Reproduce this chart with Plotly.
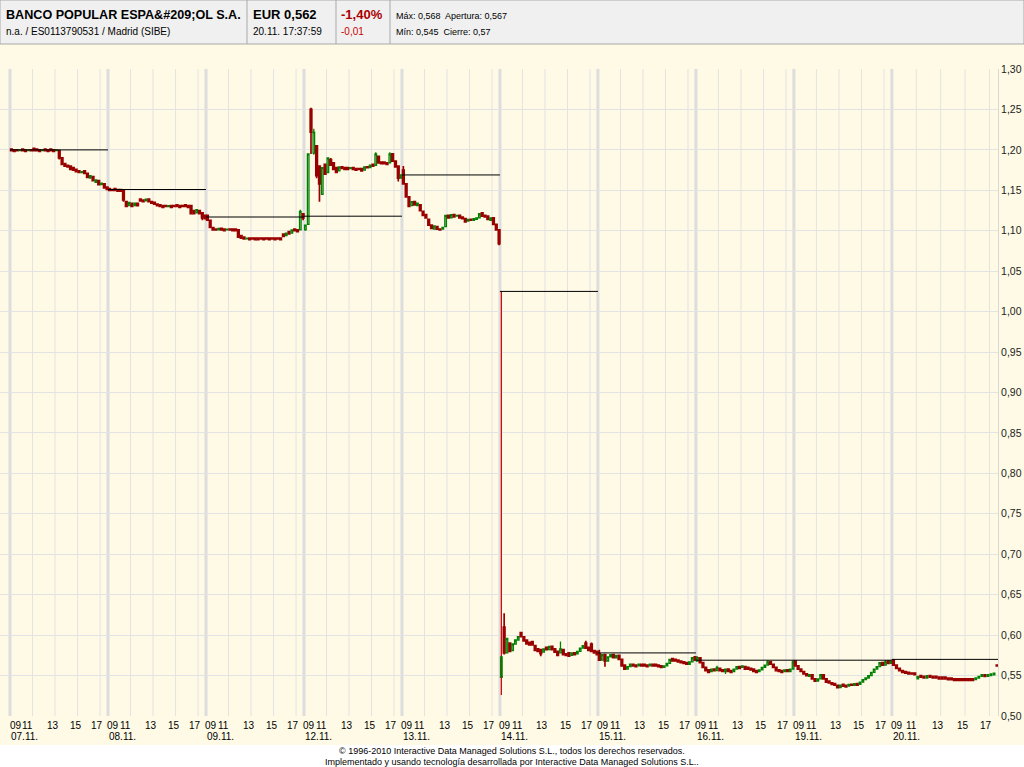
import plotly.graph_objects as go

# ---------------- data ----------------
DAYS = ["07.11.", "08.11.", "09.11.", "12.11.", "13.11.", "14.11.", "15.11.", "16.11.", "19.11.", "20.11."]
HOUR_TICKS = [9, 11, 13, 15, 17]
HOUR_TEXT = ["09", "11", "13", "15", "17"]
PRICE_TICKS = [0.50, 0.55, 0.60, 0.65, 0.70, 0.75, 0.80, 0.85, 0.90, 0.95, 1.00, 1.05, 1.10, 1.15, 1.20, 1.25, 1.30]

# previous-day close reference line for each session
PREV_CLOSE = [1.200, 1.151, 1.117, 1.118, 1.169, 1.025, 0.578, 0.569, 0.569, 0.570]

# 15-minute candles, 35 per session (09:00 ... 17:30)
OPEN = [
    [1.201, 1.200, 1.200, 1.199, 1.201, 1.200, 1.199, 1.200, 1.202, 1.201, 1.200, 1.199, 1.201, 1.200, 1.201, 1.200, 1.199, 1.199, 1.190, 1.183, 1.181, 1.180, 1.178, 1.176, 1.174, 1.172, 1.174, 1.171, 1.165, 1.167, 1.160, 1.162, 1.157, 1.158, 1.154],
    [1.152, 1.151, 1.152, 1.151, 1.151, 1.150, 1.136, 1.131, 1.134, 1.131, 1.134, 1.139, 1.138, 1.137, 1.139, 1.136, 1.135, 1.133, 1.132, 1.131, 1.131, 1.130, 1.131, 1.131, 1.132, 1.131, 1.131, 1.132, 1.131, 1.131, 1.125, 1.122, 1.125, 1.122, 1.119],
    [1.119, 1.113, 1.104, 1.102, 1.101, 1.103, 1.102, 1.101, 1.102, 1.102, 1.102, 1.101, 1.094, 1.092, 1.090, 1.091, 1.091, 1.091, 1.091, 1.091, 1.091, 1.091, 1.091, 1.091, 1.091, 1.091, 1.091, 1.096, 1.094, 1.099, 1.097, 1.102, 1.101, 1.101, 1.121],
    [1.101, 1.108, 1.250, 1.196, 1.205, 1.180, 1.145, 1.182, 1.172, 1.188, 1.184, 1.178, 1.174, 1.179, 1.178, 1.178, 1.177, 1.178, 1.177, 1.177, 1.177, 1.175, 1.179, 1.178, 1.182, 1.181, 1.192, 1.185, 1.185, 1.184, 1.184, 1.195, 1.186, 1.180, 1.165],
    [1.175, 1.158, 1.142, 1.131, 1.136, 1.131, 1.132, 1.124, 1.120, 1.114, 1.107, 1.102, 1.105, 1.102, 1.102, 1.105, 1.119, 1.116, 1.120, 1.118, 1.119, 1.117, 1.115, 1.112, 1.114, 1.113, 1.114, 1.116, 1.122, 1.119, 1.118, 1.113, 1.116, 1.108, 1.101],
    [0.548, 0.610, 0.578, 0.590, 0.581, 0.589, 0.594, 0.603, 0.598, 0.594, 0.591, 0.592, 0.587, 0.583, 0.582, 0.579, 0.585, 0.582, 0.586, 0.583, 0.580, 0.578, 0.582, 0.577, 0.578, 0.575, 0.578, 0.577, 0.580, 0.584, 0.590, 0.585, 0.589, 0.581, 0.580],
    [0.577, 0.569, 0.576, 0.568, 0.573, 0.576, 0.572, 0.575, 0.570, 0.563, 0.558, 0.561, 0.564, 0.563, 0.562, 0.564, 0.564, 0.563, 0.562, 0.564, 0.564, 0.563, 0.562, 0.560, 0.562, 0.565, 0.571, 0.570, 0.569, 0.568, 0.567, 0.566, 0.564, 0.567, 0.573],
    [0.568, 0.572, 0.566, 0.560, 0.557, 0.555, 0.558, 0.556, 0.559, 0.557, 0.555, 0.558, 0.556, 0.555, 0.558, 0.561, 0.560, 0.561, 0.560, 0.559, 0.558, 0.556, 0.555, 0.557, 0.560, 0.563, 0.567, 0.564, 0.560, 0.557, 0.556, 0.555, 0.557, 0.555, 0.558],
    [0.568, 0.562, 0.558, 0.555, 0.552, 0.549, 0.551, 0.546, 0.543, 0.546, 0.551, 0.546, 0.543, 0.541, 0.540, 0.538, 0.535, 0.539, 0.538, 0.537, 0.539, 0.538, 0.540, 0.539, 0.542, 0.545, 0.547, 0.550, 0.554, 0.558, 0.561, 0.566, 0.563, 0.568, 0.565],
    [0.569, 0.563, 0.559, 0.556, 0.555, 0.554, 0.553, 0.553, 0.546, 0.550, 0.549, 0.547, 0.550, 0.549, 0.549, 0.548, 0.548, 0.548, 0.547, 0.547, 0.546, 0.546, 0.546, 0.546, 0.546, 0.546, 0.546, 0.545, 0.547, 0.549, 0.551, 0.549, 0.550, 0.551, 0.563],
]
CLOSE = [
    [1.199, 1.198, 1.199, 1.200, 1.199, 1.198, 1.200, 1.199, 1.199, 1.199, 1.198, 1.200, 1.199, 1.198, 1.199, 1.198, 1.200, 1.190, 1.182, 1.180, 1.179, 1.176, 1.175, 1.173, 1.172, 1.173, 1.171, 1.166, 1.168, 1.162, 1.163, 1.157, 1.159, 1.153, 1.151],
    [1.150, 1.150, 1.150, 1.149, 1.149, 1.138, 1.130, 1.135, 1.130, 1.134, 1.131, 1.137, 1.136, 1.139, 1.136, 1.134, 1.133, 1.131, 1.130, 1.129, 1.130, 1.131, 1.129, 1.130, 1.130, 1.129, 1.130, 1.130, 1.129, 1.121, 1.121, 1.126, 1.121, 1.116, 1.115],
    [1.113, 1.104, 1.101, 1.101, 1.103, 1.101, 1.100, 1.102, 1.101, 1.100, 1.100, 1.092, 1.091, 1.090, 1.091, 1.089, 1.090, 1.089, 1.089, 1.090, 1.089, 1.090, 1.089, 1.090, 1.089, 1.090, 1.089, 1.093, 1.097, 1.096, 1.101, 1.100, 1.099, 1.124, 1.116],
    [1.107, 1.195, 1.222, 1.222, 1.168, 1.158, 1.178, 1.170, 1.190, 1.181, 1.176, 1.172, 1.179, 1.177, 1.176, 1.176, 1.178, 1.176, 1.175, 1.176, 1.174, 1.179, 1.178, 1.181, 1.180, 1.195, 1.184, 1.183, 1.183, 1.182, 1.195, 1.186, 1.179, 1.165, 1.169],
    [1.158, 1.142, 1.130, 1.136, 1.132, 1.134, 1.125, 1.119, 1.116, 1.107, 1.103, 1.106, 1.102, 1.101, 1.104, 1.119, 1.116, 1.120, 1.117, 1.119, 1.116, 1.115, 1.111, 1.114, 1.113, 1.115, 1.116, 1.121, 1.118, 1.117, 1.114, 1.116, 1.108, 1.101, 1.084],
    [0.573, 0.578, 0.596, 0.580, 0.589, 0.594, 0.598, 0.598, 0.593, 0.589, 0.588, 0.588, 0.581, 0.580, 0.577, 0.583, 0.582, 0.586, 0.582, 0.579, 0.575, 0.583, 0.576, 0.575, 0.574, 0.578, 0.576, 0.580, 0.584, 0.587, 0.584, 0.581, 0.580, 0.578, 0.576],
    [0.569, 0.576, 0.568, 0.573, 0.576, 0.572, 0.575, 0.570, 0.562, 0.558, 0.561, 0.564, 0.562, 0.561, 0.564, 0.562, 0.562, 0.561, 0.564, 0.562, 0.562, 0.561, 0.560, 0.562, 0.565, 0.570, 0.568, 0.568, 0.567, 0.566, 0.565, 0.564, 0.567, 0.572, 0.569],
    [0.572, 0.566, 0.560, 0.556, 0.554, 0.558, 0.556, 0.560, 0.556, 0.555, 0.558, 0.555, 0.554, 0.558, 0.561, 0.559, 0.562, 0.558, 0.558, 0.557, 0.555, 0.554, 0.557, 0.560, 0.563, 0.567, 0.564, 0.560, 0.556, 0.555, 0.554, 0.557, 0.555, 0.558, 0.567],
    [0.562, 0.558, 0.555, 0.552, 0.550, 0.551, 0.546, 0.543, 0.546, 0.551, 0.546, 0.542, 0.541, 0.539, 0.538, 0.535, 0.538, 0.537, 0.536, 0.539, 0.538, 0.540, 0.538, 0.542, 0.545, 0.547, 0.550, 0.554, 0.558, 0.561, 0.566, 0.563, 0.567, 0.565, 0.568],
    [0.563, 0.559, 0.556, 0.554, 0.553, 0.552, 0.552, 0.551, 0.549, 0.548, 0.547, 0.550, 0.548, 0.547, 0.547, 0.546, 0.546, 0.546, 0.545, 0.545, 0.544, 0.544, 0.544, 0.544, 0.544, 0.544, 0.544, 0.547, 0.549, 0.551, 0.549, 0.551, 0.552, 0.553, 0.562],
]
# wicks beyond the body: (session, slot, price)
WICK_HIGH = [(0, 8, 1.203), (1, 11, 1.140), (2, 27, 1.097), (2, 33, 1.126), (3, 2, 1.252), (3, 3, 1.226),
             (3, 4, 1.206), (3, 9, 1.190), (3, 25, 1.197), (3, 30, 1.197), (4, 0, 1.180), (4, 28, 1.123),
             (5, 1, 0.627), (5, 7, 0.604), (5, 21, 0.592), (5, 30, 0.593), (5, 32, 0.591), (6, 0, 0.582),
             (6, 34, 0.574), (7, 0, 0.574), (7, 7, 0.562), (7, 25, 0.569), (7, 34, 0.569), (8, 0, 0.569),
             (8, 32, 0.569)]
WICK_LOW = [(0, 17, 1.188), (1, 5, 1.136), (1, 6, 1.129), (1, 33, 1.113), (2, 34, 1.113), (3, 0, 1.100),
            (3, 2, 1.195), (3, 3, 1.194), (3, 4, 1.165), (3, 5, 1.136), (3, 33, 1.161), (4, 34, 1.082),
            (5, 1, 0.576), (5, 14, 0.574), (6, 2, 0.561), (7, 10, 0.552), (8, 15, 0.534), (9, 8, 0.545)]
# opening auction print of 14.11.: session, slot, open, high, low, close
AUCTION = [(5, 0, 0.549, 1.025, 0.526, 0.548)]

HEADER = {
    "name": "BANCO POPULAR ESPA&amp;#209;OL S.A.",
    "sub": "n.a. / ES0113790531 / Madrid (SIBE)",
    "price": "EUR 0,562",
    "time": "20.11. 17:37:59",
    "pct": "-1,40%",
    "chg": "-0,01",
    "hiopen": "Máx: 0,568&nbsp; Apertura: 0,567",
    "locl": "Mín: 0,545&nbsp; Cierre: 0,57",
}
FOOTER = [
    "© 1996-2010 Interactive Data Managed Solutions S.L., todos los derechos reservados.",
    "Implementado y usando tecnología desarrollada por Interactive Data Managed Solutions S.L..",
]

# ---------------- layout constants ----------------
DAY_LEN = 8.7            # hours shown per session (09:00 - 17:42)
DAY_SCALE = [1.0] * 9 + [1.083]   # the last session is drawn slightly wider
SLOT = 0.25
FONT = "Liberation Sans, Arial, sans-serif"
BG = "#fefae6"
RED = "#990000"
GREEN = "#008000"
W, H = 1024, 767
L_PX, R_PX, T_PX, B_PX = 0, 998, 69, 716


def xpos(d, hour):
    start = sum(DAY_LEN * DAY_SCALE[k] for k in range(d))
    return start + DAY_SCALE[d] * (hour - 9.0)


def fx(px):
    return (px - L_PX) / (R_PX - L_PX)


def fy(py):
    return (B_PX - py) / (B_PX - T_PX)


hi_over = {(d, i): v for d, i, v in WICK_HIGH}
lo_over = {(d, i): v for d, i, v in WICK_LOW}
xs, o, h, l, c = [], [], [], [], []
for d in range(len(DAYS)):
    for i, (op, cl) in enumerate(zip(OPEN[d], CLOSE[d])):
        xs.append(xpos(d, 9.0 + SLOT * (i + 0.5)))
        o.append(op)
        c.append(cl)
        h.append(hi_over.get((d, i), max(op, cl)))
        l.append(lo_over.get((d, i), min(op, cl)))

fig = go.Figure()

# previous close lines
for d, pc in enumerate(PREV_CLOSE):
    fig.add_trace(go.Scatter(x=[xpos(d, 9.0), xpos(d, 9.0 + DAY_LEN)], y=[pc, pc], mode="lines",
                             line=dict(color="#000000", width=1), hoverinfo="skip", showlegend=False))

candle_style = dict(
    increasing=dict(line=dict(color=GREEN, width=1.3), fillcolor="rgba(0,0,0,0)"),
    decreasing=dict(line=dict(color=RED, width=1.7), fillcolor=RED),
    whiskerwidth=0, hoverinfo="skip", showlegend=False,
)
fig.add_trace(go.Candlestick(
    x=[xpos(a[0], 9.0 + SLOT * (a[1] + 0.5)) for a in AUCTION],
    open=[a[2] for a in AUCTION], high=[a[3] for a in AUCTION],
    low=[a[4] for a in AUCTION], close=[a[5] for a in AUCTION],
    increasing=candle_style["increasing"], whiskerwidth=0, hoverinfo="skip", showlegend=False,
    decreasing=dict(line=dict(color="#cc0000", width=1.2), fillcolor="#cc0000")))
fig.add_trace(go.Candlestick(x=xs, open=o, high=h, low=l, close=c, **candle_style))

shapes = []
annotations = []
# vertical grid: thick session separators and thin hour lines
for d in range(len(DAYS)):
    for hh in HOUR_TICKS:
        thick = hh == 9
        shapes.append(dict(type="line", xref="x", yref="paper", x0=xpos(d, hh), x1=xpos(d, hh), y0=0, y1=1,
                           line=dict(color="#dddddd" if thick else "#e3e3e3", width=3 if thick else 1),
                           layer="below"))
# hour labels and date labels
LABEL_SHIFT = {9: 5.5, 11: -5, 13: -2.5, 15: -2, 17: -3.5}
for d, day in enumerate(DAYS):
    for hh, txt in zip(HOUR_TICKS, HOUR_TEXT):
        annotations.append(dict(x=xpos(d, hh), xref="x", y=fy(725), yref="paper", text=txt, showarrow=False,
                                xanchor="center", yanchor="middle", xshift=LABEL_SHIFT[hh],
                                font=dict(family=FONT, size=10, color="#000000")))
    annotations.append(dict(x=xpos(d, 9.0), xref="x", y=fy(736.5), yref="paper", text=day, showarrow=False,
                            xanchor="left", yanchor="middle", xshift=-1,
                            font=dict(family=FONT, size=10, color="#000000")))

# header panel
shapes.append(dict(type="rect", xref="paper", yref="paper", x0=fx(0), x1=fx(W), y0=fy(44), y1=fy(0),
                   fillcolor="#f0f0f0", line=dict(color="#a9a9a9", width=1), layer="below"))
for sx in [247, 336, 390]:
    shapes.append(dict(type="line", xref="paper", yref="paper", x0=fx(sx), x1=fx(sx), y0=fy(44), y1=fy(0),
                       line=dict(color="#a9a9a9", width=1)))
# footer panel
shapes.append(dict(type="rect", xref="paper", yref="paper", x0=fx(0), x1=fx(W), y0=fy(H), y1=fy(745),
                   fillcolor="#ffffff", line=dict(width=0), layer="below"))


def text_ann(px, py, txt, size, color="#000000", anchor="left"):
    return dict(x=fx(px), y=fy(py), xref="paper", yref="paper", text=txt, showarrow=False,
                xanchor=anchor, yanchor="middle", font=dict(family=FONT, size=size, color=color))


annotations += [
    text_ann(4, 15, "<b>" + HEADER["name"] + "</b>", 12.6),
    text_ann(4, 32, HEADER["sub"], 10),
    text_ann(251, 15, "<b>" + HEADER["price"] + "</b>", 13),
    text_ann(251, 32, HEADER["time"], 10),
    text_ann(339, 15, "<b>" + HEADER["pct"] + "</b>", 13, color="#aa0000"),
    text_ann(339, 32, HEADER["chg"], 10, color="#cc0000"),
    text_ann(394, 16, HEADER["hiopen"], 9),
    text_ann(394, 32, HEADER["locl"], 9),
    text_ann(512, 751, FOOTER[0], 9, anchor="center"),
    text_ann(512, 762, FOOTER[1], 9, anchor="center"),
]

fig.update_layout(
    width=W, height=H, autosize=False,
    margin=dict(l=L_PX, r=W - R_PX, t=T_PX, b=H - B_PX, pad=0),
    paper_bgcolor=BG, plot_bgcolor=BG,
    separators=",.",
    boxgap=0, hovermode=False, showlegend=False,
    shapes=shapes, annotations=annotations,
    xaxis=dict(range=[-10 / 11.264, xpos(len(DAYS) - 1, 9.0 + DAY_LEN)], showgrid=False, zeroline=False,
               showticklabels=False, showline=False, rangeslider=dict(visible=False), fixedrange=True),
    yaxis=dict(range=[0.50, 1.30], side="right", tickvals=PRICE_TICKS, tickformat=".2f",
               showgrid=True, gridcolor="#e3e3e3", gridwidth=1, zeroline=False,
               showline=True, linecolor="#d8d8d8", linewidth=1, ticks="",
               tickfont=dict(family=FONT, size=10.5, color="#222222"), fixedrange=True),
)

fig.write_html("out.html", config={"displayModeBar": False},
               post_script="document.body.style.margin='0';document.body.style.overflow='hidden';")
